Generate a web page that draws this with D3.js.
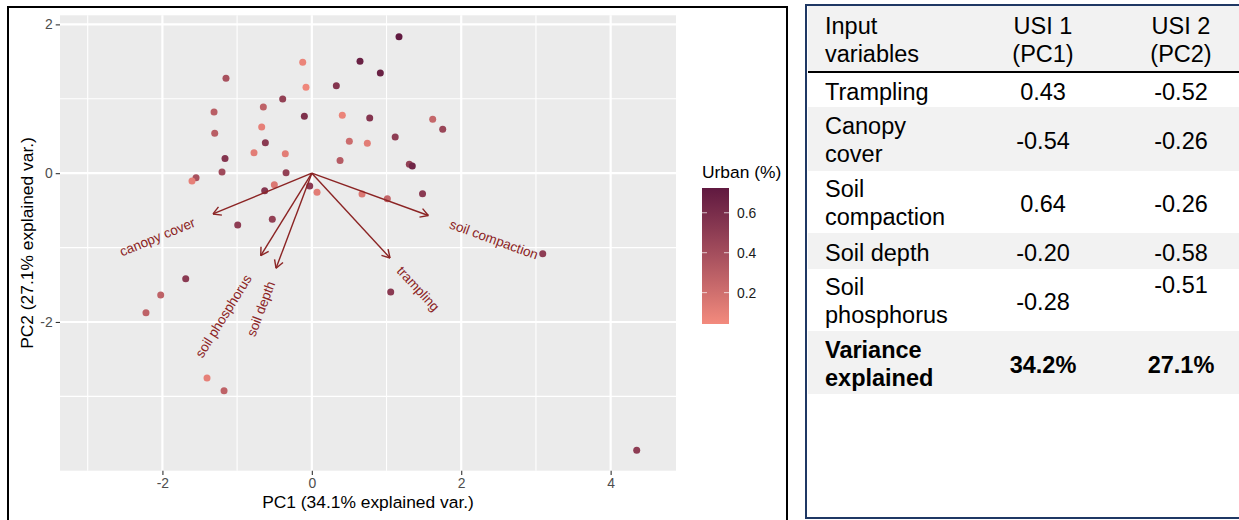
<!DOCTYPE html>
<html>
<head>
<meta charset="utf-8">
<script src="https://cdn.jsdelivr.net/npm/d3@7"></script>
<style>
  body { margin: 0; background: #fff; }
  text { font-family: "Liberation Sans", Arial, sans-serif; }
</style>
</head>
<body>
<svg id="chart" width="1239" height="520"></svg>
<script>
// PCA scores
const pc1 = [1.167, 0.645, 0.917, -0.122, -0.078, -1.149, 0.328, -0.390, -1.309, -0.649,
  -0.100, 0.408, 0.775, -1.300, -0.671, -0.622, -0.774, -0.355, 0.502, 0.743,
  1.116, -1.162, -1.202, 0.378, 1.305, 1.345, -0.345, -1.550, -1.604, -0.502,
  -0.028, -0.631, 0.070, 0.672, 1.011, 1.482, -0.992, -0.529, -1.688, -2.023,
  -2.220, -1.403, -1.175, 1.056, 1.618, 1.752, 3.091, 4.349];
const pc2 = [1.835, 1.504, 1.347, 1.491, 1.155, 1.276, 1.176, 0.997, 0.823, 0.890,
  0.765, 0.778, 0.742, 0.538, 0.621, 0.410, 0.276, 0.262, 0.429, 0.402,
  0.487, 0.198, 0.016, 0.171, 0.120, 0.097, 0.007, -0.060, -0.105, -0.155,
  -0.172, -0.235, -0.257, -0.280, -0.344, -0.277, -0.696, -0.620, -1.418, -1.637,
  -1.875, -2.753, -2.923, -1.597, 0.724, 0.590, -1.082, -3.724];
const urban = [0.72, 0.68, 0.68, 0.08, 0.06, 0.38, 0.55, 0.48, 0.30, 0.28,
  0.58, 0.08, 0.55, 0.30, 0.10, 0.52, 0.12, 0.12, 0.22, 0.12,
  0.50, 0.55, 0.42, 0.32, 0.48, 0.65, 0.48, 0.38, 0.10, 0.15,
  0.52, 0.55, 0.12, 0.15, 0.25, 0.52, 0.50, 0.48, 0.52, 0.28,
  0.28, 0.10, 0.28, 0.52, 0.25, 0.45, 0.50, 0.50];

// variable arrows (biplot loadings, plotted scale)
const varNames = ['trampling', 'canopy cover', 'soil compaction', 'soil depth', 'soil phosphorus'];
const arrowPC1 = [1.047, -1.323, 1.560, -0.479, -0.684];
const arrowPC2 = [-1.140, -0.548, -0.569, -1.278, -1.109];

const xTicks = [-2, 0, 2, 4];
const yTicks = [-2, 0, 2];
const xMinor = [-3, -1, 1, 3];
const yMinor = [-3, -1, 1];
const legendTicks = [0.2, 0.4, 0.6];

// table
const tableHeader = [['Input', 'variables'], ['USI 1', '(PC1)'], ['USI 2', '(PC2)']];
const inputVars = [['Trampling'], ['Canopy', 'cover'], ['Soil', 'compaction'], ['Soil depth'], ['Soil', 'phosphorus']];
const usi1 = ['0.43', '-0.54', '0.64', '-0.20', '-0.28'];
const usi2 = ['-0.52', '-0.26', '-0.26', '-0.58', '-0.51'];
const varianceLabel = ['Variance', 'explained'];
const varianceExplained = ['34.2%', '27.1%'];

const svg = d3.select('#chart');

// ---------- left panel ----------
svg.append('rect')
    .attr('x', 8).attr('y', 7).attr('width', 779).attr('height', 530)
    .attr('fill', 'none').attr('stroke', '#000').attr('stroke-width', 2);

const panel = {left: 60, top: 15.3, right: 676, bottom: 470.7};

const x = d3.scaleLinear().domain([-3.371, 4.875]).range([panel.left, panel.right]);
const y = d3.scaleLinear().domain([-3.999, 2.122]).range([panel.bottom, panel.top]);
const color = d3.scaleLinear()
    .domain([0.04, 0.72])
    .range(['#f48b7d', '#611a40'])
    .interpolate(d3.interpolateLab);

svg.append('rect')
    .attr('x', panel.left).attr('y', panel.top)
    .attr('width', panel.right - panel.left).attr('height', panel.bottom - panel.top)
    .attr('fill', '#ebebeb');

const grid = svg.append('g');
grid.selectAll('.vminor').data(xMinor).join('line')
    .attr('x1', d => x(d)).attr('x2', d => x(d))
    .attr('y1', panel.top).attr('y2', panel.bottom)
    .attr('stroke', '#fff').attr('stroke-width', 1.1);
grid.selectAll('.hminor').data(yMinor).join('line')
    .attr('y1', d => y(d)).attr('y2', d => y(d))
    .attr('x1', panel.left).attr('x2', panel.right)
    .attr('stroke', '#fff').attr('stroke-width', 1.1);
grid.selectAll('.vmajor').data(xTicks).join('line')
    .attr('x1', d => x(d)).attr('x2', d => x(d))
    .attr('y1', panel.top).attr('y2', panel.bottom)
    .attr('stroke', '#fff').attr('stroke-width', 2.2);
grid.selectAll('.hmajor').data(yTicks).join('line')
    .attr('y1', d => y(d)).attr('y2', d => y(d))
    .attr('x1', panel.left).attr('x2', panel.right)
    .attr('stroke', '#fff').attr('stroke-width', 2.2);

// axes
const xAxisG = svg.append('g')
    .attr('transform', `translate(0,${panel.bottom})`)
    .call(d3.axisBottom(x).tickValues(xTicks).tickSize(4.3).tickPadding(3).tickFormat(d3.format('d')))
    .call(g => g.select('.domain').remove());
const yAxisG = svg.append('g')
    .attr('transform', `translate(${panel.left},0)`)
    .call(d3.axisLeft(y).tickValues(yTicks).tickSize(4.3).tickPadding(3).tickFormat(d3.format('d')))
    .call(g => g.select('.domain').remove());
[xAxisG, yAxisG].forEach(g => {
  g.selectAll('.tick line').attr('stroke', '#333').attr('stroke-width', 1.1);
  g.selectAll('.tick text')
      .attr('fill', '#4d4d4d')
      .style('font-size', '13.9px')
      .style('font-family', '"Liberation Sans", Arial, sans-serif');
});
yAxisG.selectAll('.tick text').text(d => d < 0 ? '-' + Math.abs(d) : d);
xAxisG.selectAll('.tick text').text(d => d < 0 ? '-' + Math.abs(d) : d);

svg.append('text')
    .attr('x', (panel.left + panel.right) / 2).attr('y', 508)
    .attr('text-anchor', 'middle')
    .style('font-size', '17.4px').attr('fill', '#000')
    .text('PC1 (34.1% explained var.)');
svg.append('text')
    .attr('transform', `translate(33,${(panel.top + panel.bottom) / 2}) rotate(-90)`)
    .attr('text-anchor', 'middle')
    .style('font-size', '17.4px').attr('fill', '#000')
    .text('PC2 (27.1% explained var.)');

// points
svg.append('g').selectAll('circle')
    .data(pc1.map((d, i) => ({x: d, y: pc2[i], u: urban[i]})))
    .join('circle')
    .attr('cx', d => x(d.x)).attr('cy', d => y(d.y))
    .attr('r', 3.5)
    .attr('fill', d => color(d.u));

// arrows + labels
const arrowColor = '#8b2424';
const x0 = x(0), y0 = y(0);
const arrowsG = svg.append('g');
varNames.forEach((name, i) => {
  const tx = x(arrowPC1[i]), ty = y(arrowPC2[i]);
  const dx = tx - x0, dy = ty - y0;
  const len = Math.hypot(dx, dy);
  const ux = dx / len, uy = dy / len;
  arrowsG.append('line')
      .attr('x1', x0).attr('y1', y0).attr('x2', tx).attr('y2', ty)
      .attr('stroke', arrowColor).attr('stroke-width', 1.4);
  const headLen = 9, a = Math.PI / 6;
  [a, -a].forEach(t => {
    const bx = -ux * Math.cos(t) + uy * Math.sin(t);
    const by = -uy * Math.cos(t) - ux * Math.sin(t);
    arrowsG.append('line')
        .attr('x1', tx).attr('y1', ty)
        .attr('x2', tx + bx * headLen).attr('y2', ty + by * headLen)
        .attr('stroke', arrowColor).attr('stroke-width', 1.4);
  });
  const angle = Math.atan(dy / dx) * 180 / Math.PI;
  const label = arrowsG.append('text')
      .attr('fill', arrowColor)
      .style('font-size', '13.5px')
      .attr('dy', '0.35em')
      .attr('text-anchor', dx > 0 ? 'start' : 'end')
      .text(name);
  const w = label.node().getComputedTextLength();
  const lx = tx + ux * 0.25 * w, ly = ty + uy * 0.25 * w;
  label.attr('transform', `translate(${lx},${ly}) rotate(${angle})`);
});

// legend
const legend = {x: 702, top: 188, bottom: 324, width: 27};
const lScale = d3.scaleLinear().domain([0.043, 0.724]).range([legend.bottom, legend.top]);
const defs = svg.append('defs');
const grad = defs.append('linearGradient').attr('id', 'urbanGrad')
    .attr('x1', 0).attr('y1', 1).attr('x2', 0).attr('y2', 0);
d3.range(0, 1.0001, 0.1).forEach(t => {
  const v = 0.043 + t * (0.724 - 0.043);
  grad.append('stop').attr('offset', t).attr('stop-color', color(v));
});
svg.append('rect')
    .attr('x', legend.x).attr('y', legend.top)
    .attr('width', legend.width).attr('height', legend.bottom - legend.top)
    .attr('fill', 'url(#urbanGrad)');
legendTicks.forEach(t => {
  const ly = lScale(t);
  svg.append('line').attr('x1', legend.x).attr('x2', legend.x + 5).attr('y1', ly).attr('y2', ly)
      .attr('stroke', '#fff').attr('stroke-opacity', 0.7);
  svg.append('line').attr('x1', legend.x + legend.width - 5).attr('x2', legend.x + legend.width).attr('y1', ly).attr('y2', ly)
      .attr('stroke', '#fff').attr('stroke-opacity', 0.7);
  svg.append('text')
      .attr('x', legend.x + legend.width + 8).attr('y', ly).attr('dy', '0.35em')
      .style('font-size', '13.9px').attr('fill', '#1a1a1a')
      .text(t.toFixed(1));
});
svg.append('text')
    .attr('x', legend.x).attr('y', 178)
    .style('font-size', '17.4px').attr('fill', '#000')
    .text('Urban (%)');

// ---------- table ----------
svg.append('rect')
    .attr('x', 806).attr('y', 5).attr('width', 460).attr('height', 513)
    .attr('fill', 'none').attr('stroke', '#1f3864').attr('stroke-width', 2);

const rowHeights = [66, 35, 64, 62, 36, 62, 63];
const rowTops = [6];
rowHeights.forEach((h, i) => rowTops.push(rowTops[i] + h));
const shaded = [true, false, true, false, true, false, true];
const colX = [825, 1043, 1181];
const tableFont = '23.5px';
const tbl = svg.append('g');

tbl.selectAll('rect').data(rowHeights).join('rect')
    .attr('x', 808).attr('y', (d, i) => rowTops[i])
    .attr('width', 431).attr('height', d => d)
    .attr('fill', (d, i) => shaded[i] ? '#f2f2f2' : '#fff');
tbl.append('line')
    .attr('x1', 808).attr('x2', 1239).attr('y1', rowTops[1]).attr('y2', rowTops[1])
    .attr('stroke', '#000').attr('stroke-width', 2);

function cell(lines, col, row, opts = {}) {
  const mid = rowTops[row] + rowHeights[row] / 2;
  const t = tbl.append('text')
      .attr('x', colX[col])
      .attr('text-anchor', col === 0 ? 'start' : 'middle')
      .style('font-size', tableFont)
      .style('font-weight', opts.bold ? 'bold' : 'normal')
      .attr('fill', '#000');
  let base;
  if (opts.top) base = [rowTops[row] + 24];
  else if (lines.length === 1) base = [mid + 10];
  else base = [mid - 5, mid + 23];
  lines.forEach((s, k) => t.append('tspan').attr('x', colX[col]).attr('y', base[k]).text(s));
}

tableHeader.forEach((h, c) => cell(h, c, 0));
inputVars.forEach((v, r) => {
  cell(v, 0, r + 1);
  cell([usi1[r]], 1, r + 1);
  cell([usi2[r]], 2, r + 1, {top: r === 4});
});
cell(varianceLabel, 0, 6, {bold: true});
cell([varianceExplained[0]], 1, 6, {bold: true});
cell([varianceExplained[1]], 2, 6, {bold: true});
</script>
</body>
</html>
